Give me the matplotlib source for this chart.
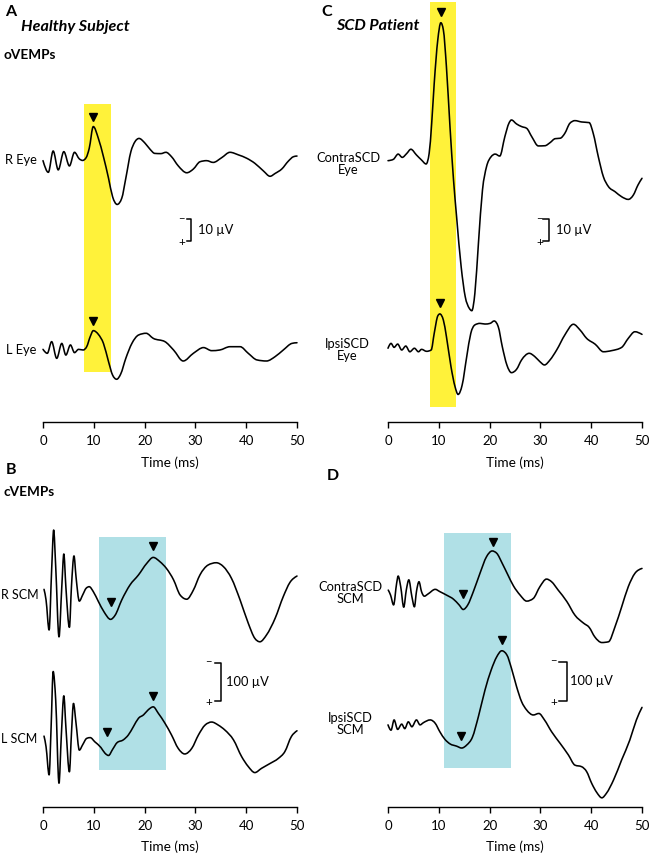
import matplotlib
matplotlib.use("Agg")
import matplotlib.pyplot as plt
import numpy as np
from matplotlib.patches import Rectangle, PathPatch
from matplotlib.path import Path

plt.rcParams['font.family'] = ['Lato', 'DejaVu Sans']

# ---------------- data (time in ms, amplitude in µV, negative = up) ----------------
# Panel A: healthy subject oVEMPs
t_a_r = [0, 1.05, 2.0, 3.0, 4.1, 5.2, 6.2, 7.15, 7.8, 8.5, 9.1, 9.9, 10.9, 11.9, 12.9, 13.7, 14.6, 15.5, 16.3, 17.3,
         18.1, 18.9, 20.1, 21.1, 22.0, 23.2, 24.2, 25.3, 26.6, 28.3, 29.6, 30.9, 32.2, 33.5, 35.2, 36.8, 38.5, 40.1, 41.7, 43.4,
         44.7, 45.7, 47.0, 48.3, 49.3, 50.0]
v_a_r = [0.3, 5.6, -4.1, 4.5, -3.8, 2.7, -3.5, -0.5, 0.2, -1.1, -5.3, -15.2, -9.8, -1.5, 8.3, 16.7, 20.2, 17.4, 8.3, -3.8,
         -8.3, -9.8, -7.6, -4.8, -3.0, -2.9, -3.5, -1.5, 2.6, 5.8, 4.1, 0.8, 0.3, 1.1, -1.1, -3.5, -2.3, -0.8, 1.5, 5.0,
         7.4, 6.1, 4.1, 0.5, -1.5, -1.8]
t_a_l = [0, 0.85, 1.7, 2.7, 3.7, 4.5, 5.4, 6.2, 7.0, 7.9, 8.6, 9.3, 9.9, 10.9, 11.9, 12.9, 13.7, 14.5, 15.3, 16.3,
         17.5, 18.8, 20.3, 21.7, 24.0, 25.7, 27.6, 29.6, 31.6, 33.2, 34.8, 36.8, 38.8, 40.4, 42.1, 44.0, 45.7, 47.3, 49.0, 50.0]
v_a_l = [-0.3, 1.5, -3.8, 3.8, -3.0, 2.3, -2.3, 1.2, -0.3, 0.0, -1.5, -6.1, -8.8, -7.1, -3.0, 5.3, 11.4, 13.3, 10.9, 3.8,
         -3.0, -6.8, -7.6, -5.3, -3.8, 0.0, 5.0, 1.5, -1.1, 0.3, 0.0, -1.5, -1.5, 1.5, 4.5, 5.0, 3.0, 0.0, -3.0, -3.3]

# Panel C: SCD patient oVEMPs
t_c_contra = [0, 1.05, 2.0, 2.8, 3.7, 4.5, 5.6, 6.6, 7.5, 8.1, 8.6, 9.1, 9.8, 10.4, 10.9, 11.5, 12.2, 12.9, 13.5, 14.4,
              15.2, 16.0, 16.5, 17.1, 17.8, 18.6, 19.4, 20.3, 21.1, 22.0, 23.0, 23.8, 24.3, 25.3, 26.3, 27.3, 28.3, 29.6, 30.9, 31.9,
              32.9, 33.9, 34.8, 35.8, 36.8, 38.1, 39.6, 40.4, 41.4, 42.4, 43.4, 44.7, 46.0, 47.3, 48.3, 49.2, 50.0]
v_c_contra = [-0.6, -1.2, -3.6, -2.1, -3.9, -5.8, -3.2, -0.9, 0.9, -3.9, -17.6, -35.8, -55.5, -63.3, -60.0, -43.3, -16.1, 8.2, 24.8, 47.6,
              61.2, 66.5, 67.6, 59.7, 37.0, 12.7, 2.1, -2.4, -3.6, -2.7, -11.5, -17.6, -19.1, -17.3, -16.1, -15.3, -11.5, -7.3, -7.4, -8.8,
              -10.6, -10.8, -13.0, -17.6, -18.8, -18.2, -17.9, -13.0, -2.4, 6.7, 11.2, 13.5, 15.8, 17.0, 15.0, 10.5, 7.4]
t_c_ipsi = [0, 0.6, 1.2, 1.9, 2.7, 3.5, 4.3, 5.2, 6.0, 6.6, 7.6, 8.5, 9.1, 9.8, 10.2, 10.9, 11.5, 12.4, 13.2, 13.8,
            14.6, 15.5, 16.3, 17.1, 18.1, 19.1, 20.1, 20.9, 21.7, 22.5, 23.4, 24.3, 25.3, 26.3, 27.8, 28.9, 29.9, 30.8, 31.9, 33.2,
            34.8, 36.5, 37.8, 39.1, 40.8, 42.4, 44.0, 46.0, 47.3, 48.6, 50.0]
v_c_ipsi = [-0.8, -3.0, -1.2, -2.7, 0.0, -1.8, 0.8, -0.8, 0.8, -0.3, 0.6, 0.0, -7.6, -15.5, -16.4, -13.6, -6.1, 7.6, 16.7, 20.2,
            15.9, 3.0, -7.6, -11.4, -12.1, -11.8, -12.1, -13.2, -10.6, -1.5, 6.8, 10.3, 8.8, 4.5, 1.5, 3.0, 5.3, 6.8, 4.5, 0.0,
            -6.8, -11.7, -9.1, -5.3, -2.6, 0.8, 0.3, -1.2, -5.3, -8.3, -7.1]

# Panel B: healthy subject cVEMPs
t_b_r = [0.2, 0.6, 1.2, 1.7, 2.1, 2.5, 3.15, 3.7, 4.1, 4.5, 5.2, 5.6, 6.1, 6.5, 7.15, 7.8, 8.5, 9.1, 9.9, 10.9,
         12.0, 13.3, 14.2, 15.5, 17.1, 18.8, 20.4, 21.7, 23.0, 24.3, 25.7, 27.0, 28.3, 29.6, 30.9, 32.5, 34.1, 35.5, 37.1, 38.8,
         40.4, 41.7, 42.7, 44.0, 45.7, 47.3, 48.6, 50.0]
v_b_r = [-7, 21, 100, -58, -163, -67, 118, -14, -100, -14, 93, -14, -95, -40, 24, 8, -10, -14, -1, 25,
         52, 72, 61, 21, -18, -45, -75, -91, -80, -62, -32, 8, 19, -5, -45, -71, -77, -67, -36, 21,
         82, 122, 131, 113, 69, 12, -25, -42]
t_b_l = [0.2, 0.6, 1.2, 1.6, 2.0, 2.5, 3.15, 3.6, 4.1, 4.5, 5.2, 5.6, 6.0, 6.5, 7.15, 7.8, 8.6, 9.3, 10.2, 11.4,
         12.2, 12.9, 13.7, 14.6, 15.8, 16.8, 17.8, 18.8, 19.8, 20.7, 21.7, 22.7, 24.0, 25.3, 26.6, 27.9, 29.3, 30.6, 31.9, 33.2,
         34.5, 35.8, 37.5, 39.1, 40.4, 41.7, 43.0, 44.7, 46.3, 47.6, 48.9, 50.0]
v_b_l = [-5, 23, 97, -30, -175, -100, 119, -4, -111, -30, 89, -12, -91, -39, 32, 18, 1, -1, 10, 25,
         40, 46, 30, 12, 5, -8, -30, -52, -61, -74, -82, -65, -39, -8, 27, 42, 27, -8, -34, -42,
         -34, -21, 5, 49, 75, 91, 80, 67, 54, 36, -4, -19]

# Panel D: SCD patient cVEMPs
t_d_contra = [0.05, 0.5, 1.1, 1.7, 2.0, 2.5, 3.1, 3.6, 4.1, 4.7, 5.2, 5.6, 6.1, 6.6, 7.15, 7.9, 9.3, 10.2, 11.5, 12.9,
              14.0, 14.8, 15.7, 16.8, 18.1, 19.4, 20.5, 21.4, 22.5, 23.6, 24.7, 26.0, 27.3, 28.6, 29.9, 31.2, 32.2, 33.5, 35.2, 36.8,
              38.5, 39.6, 40.7, 42.1, 43.4, 44.7, 46.0, 47.3, 48.6, 50.0]
v_d_contra = [-5, 8, 34, -23, -42, -14, 40, -5, -32, 12, 39, -1, -27, -1, 11, 5, -7, -1, 8, 19,
              34, 46, 34, -1, -49, -93, -108, -102, -75, -45, -16, 8, 24, 17, -14, -34, -27, -5, 25, 61,
              82, 93, 118, 133, 131, 91, 39, -14, -49, -62]
t_d_ipsi = [0, 0.6, 1.2, 1.9, 2.7, 3.3, 4.0, 4.7, 5.6, 6.3, 7.0, 8.3, 9.3, 10.2, 11.2, 12.2, 13.5, 14.5, 15.5, 16.6,
            17.8, 19.1, 20.3, 21.4, 22.4, 23.4, 24.3, 25.3, 26.3, 27.3, 28.6, 29.7, 30.8, 32.2, 33.9, 35.5, 36.8, 38.1, 39.1, 40.1,
            41.1, 42.1, 43.0, 44.4, 46.0, 47.6, 48.9, 50.0]
v_d_ipsi = [-3, 11, -16, 9, -5, 7, -11, 2, -16, -3, -9, -16, -7, 15, 35, 47, 53, 58, 50, 30,
            -25, -95, -147, -182, -198, -187, -152, -104, -64, -42, -29, -33, -16, 15, 46, 76, 103, 107, 120, 151,
            175, 189, 177, 142, 89, 37, -16, -49]

# Peak markers (latency ms, level µV)
mk_a_r = ([9.9], [-19.4])
mk_a_l = ([9.9], [-13.2])
mk_c_contra = ([10.4], [-68.3])
mk_c_ipsi = ([10.2], [-21.5])
mk_b_r = ([13.4, 21.6], [25.5, -121])
mk_b_l = ([12.5, 21.6], [-16.6, -111])
mk_d_contra = ([14.8, 20.7], [6, -131])
mk_d_ipsi = ([14.4, 22.4], [25.5, -226])

# Highlighted latency windows (ms)
win_ovemp_healthy = (8.13, 13.3)
win_ovemp_scd = (8.27, 13.3)
win_cvemp_healthy = (10.96, 24.2)
win_cvemp_scd = (11.0, 24.2)

xticks = [0, 10, 20, 30, 40, 50]

# ---------------- layout ----------------
W, H = 650, 855
fig = plt.figure(figsize=(W / 100, H / 100), dpi=100)
YELLOW = '#FFF23A'
CYAN = '#B0E0E6'
FS = 9.3


def ptext(x, y, s, **kw):
    fig.text(x / W, 1 - y / H, s, **kw)


def make_axes(x0, x1, ytop, ybot, scale):
    ax = fig.add_axes([x0 / W, 1 - ybot / H, (x1 - x0) / W, (ybot - ytop) / H])
    ax.set_xlim(0, 50)
    ax.set_ylim((ybot - ytop) / scale, 0)  # inverted: negative voltage up
    for s in ['left', 'right', 'top']:
        ax.spines[s].set_visible(False)
    ax.spines['bottom'].set_linewidth(1.0)
    ax.set_yticks([])
    ax.set_xticks(xticks)
    ax.set_xticklabels([str(x) for x in xticks])
    ax.tick_params(axis='x', direction='out', length=4, width=1.0, pad=5, labelsize=9.5)
    ax.patch.set_alpha(0)
    ax._pix = (ytop, scale)
    return ax


def off(ax, ypix):
    ytop, scale = ax._pix
    return (ypix - ytop) / scale


def box(ax, win, ypix0, ypix1, color):
    y0, y1 = off(ax, ypix0), off(ax, ypix1)
    ax.add_patch(Rectangle((win[0], y0), win[1] - win[0], y1 - y0, facecolor=color,
                           edgecolor='none', zorder=0, clip_on=False))


def monotone_path(x, y):
    """Smooth monotone-in-x cubic curve through the given points (as drawn by d3 curveMonotoneX)."""
    x = np.asarray(x, float)
    y = np.asarray(y, float)
    n = len(x)
    h = np.diff(x)
    s = np.diff(y) / h
    m = np.zeros(n)
    for i in range(1, n - 1):
        p = (s[i - 1] * h[i] + s[i] * h[i - 1]) / (h[i - 1] + h[i])
        m[i] = (np.sign(s[i - 1]) + np.sign(s[i])) * min(abs(s[i - 1]), abs(s[i]), 0.5 * abs(p))
    m[0] = (3 * s[0] - m[1]) / 2
    m[-1] = (3 * s[-1] - m[-2]) / 2
    verts = [(x[0], y[0])]
    codes = [Path.MOVETO]
    for i in range(n - 1):
        d = h[i] / 3
        verts += [(x[i] + d, y[i] + m[i] * d), (x[i + 1] - d, y[i + 1] - m[i + 1] * d), (x[i + 1], y[i + 1])]
        codes += [Path.CURVE4] * 3
    return Path(verts, codes)


def trace(ax, t, v, ybase, marks):
    o = off(ax, ybase)
    path = monotone_path(t, np.array(v) + o)
    ax.add_patch(PathPatch(path, facecolor='none', edgecolor='black', lw=1.15,
                           clip_on=False, zorder=3, capstyle='round', joinstyle='round'))
    mt, mv = marks
    ax.plot(mt, np.array(mv) + o, linestyle='none', marker='v', color='black',
            markersize=5.5, clip_on=False, zorder=4)


def scalebar(ax, t, yp0, yp1, tick, sign_t, label, label_t):
    y0, y1 = off(ax, yp0), off(ax, yp1)
    ax.plot([t - tick, t, t, t - tick], [y0, y0, y1, y1], color='black', lw=1.1, clip_on=False)
    ax.text(sign_t, y0 - (y1 - y0) * 0.05, '\u2212', fontsize=8, ha='center', va='center')
    ax.text(sign_t, y1 + (y1 - y0) * 0.05, '+', fontsize=8.5, ha='center', va='center')
    ax.text(label_t, (y0 + y1) / 2, label, fontsize=FS, ha='left', va='center')


# Panel A
axA = make_axes(43, 297, 0, 422, 2.2)
box(axA, win_ovemp_healthy, 104, 372, YELLOW)
trace(axA, t_a_r, v_a_r, 160, mk_a_r)
trace(axA, t_a_l, v_a_l, 350, mk_a_l)
scalebar(axA, 29.1, 219, 241, 0.8, 27.3, '10 \u00b5V', 30.6)

# Panel C
axC = make_axes(388, 642, 0, 422, 2.2)
box(axC, win_ovemp_scd, 2, 407, YELLOW)
trace(axC, t_c_contra, v_c_contra, 162, mk_c_contra)
trace(axC, t_c_ipsi, v_c_ipsi, 350, mk_c_ipsi)
scalebar(axC, 31.6, 219, 241, 1.0, 29.9, '10 \u00b5V', 33.1)

# Panel B
axB = make_axes(43, 297, 480, 807, 0.38)
box(axB, win_cvemp_healthy, 536.7, 770, CYAN)
trace(axB, t_b_r, v_b_r, 592, mk_b_r)
trace(axB, t_b_l, v_b_l, 738, mk_b_l)
scalebar(axB, 35.0, 662.7, 700.7, 1.2, 32.6, '100 \u00b5V', 36.1)

# Panel D
axD = make_axes(388, 642, 480, 807, 0.38)
box(axD, win_cvemp_scd, 533, 767.7, CYAN)
trace(axD, t_d_contra, v_d_contra, 592, mk_d_contra)
trace(axD, t_d_ipsi, v_d_ipsi, 726, mk_d_ipsi)
scalebar(axD, 35.2, 662, 700.7, 1.6, 32.6, '100 \u00b5V', 35.9)

# Axis titles
for (x, y) in [(170, 463), (515, 463), (170, 847), (515, 847)]:
    ptext(x, y, 'Time (ms)', fontsize=9.8, ha='center', va='center')

# Panel letters and headings
ptext(11, 12, 'A', fontsize=11.5, fontweight='bold', ha='center', va='center')
ptext(327, 12, 'C', fontsize=11.5, fontweight='bold', ha='center', va='center')
ptext(11, 470, 'B', fontsize=11.5, fontweight='bold', ha='center', va='center')
ptext(333, 476, 'D', fontsize=11.5, fontweight='bold', ha='center', va='center')
ptext(21, 26.5, 'Healthy Subject', fontsize=11.6, fontweight='bold', fontstyle='italic', ha='left', va='center')
ptext(336, 25.5, 'SCD Patient', fontsize=11.6, fontweight='bold', fontstyle='italic', ha='left', va='center')
ptext(3, 55, 'oVEMPs', fontsize=9.8, fontweight='bold', ha='left', va='center')
ptext(4, 492, 'cVEMPs', fontsize=9.8, fontweight='bold', ha='left', va='center')

# Trace labels
ptext(37, 160, 'R Eye', fontsize=FS, ha='right', va='center')
ptext(36, 350, 'L Eye', fontsize=FS, ha='right', va='center')
ptext(38.5, 595, 'R SCM', fontsize=9.0, ha='right', va='center')
ptext(37.5, 739, 'L SCM', fontsize=9.0, ha='right', va='center')
ptext(348, 163.5, 'ContraSCD\nEye', fontsize=FS, ha='center', va='center', multialignment='center', linespacing=1.0)
ptext(347, 349.5, 'IpsiSCD\nEye', fontsize=FS, ha='center', va='center', multialignment='center', linespacing=1.0)
ptext(350, 593, 'ContraSCD\nSCM', fontsize=FS, ha='center', va='center', multialignment='center', linespacing=1.0)
ptext(350, 723.5, 'IpsiSCD\nSCM', fontsize=FS, ha='center', va='center', multialignment='center', linespacing=1.0)

fig.savefig('out.png', dpi=100)
